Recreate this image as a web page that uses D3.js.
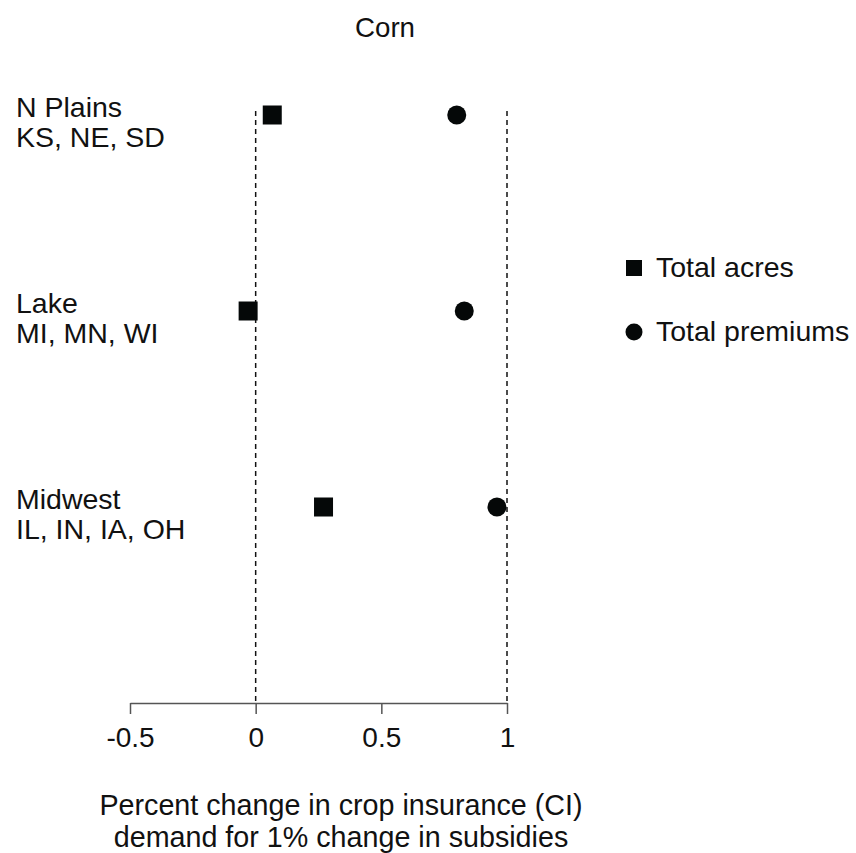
<!DOCTYPE html>
<html>
<head>
<meta charset="utf-8">
<script src="https://cdn.jsdelivr.net/npm/d3@7"></script>
<style>
  body { margin: 0; background: #fff; }
  text { font-family: "Liberation Sans", Arial, Helvetica, sans-serif; fill: #111; }
</style>
</head>
<body>
<div id="main"></div>
<script>
// data
const regions = ['N Plains', 'Lake', 'Midwest'];
const states = ['KS, NE, SD', 'MI, MN, WI', 'IL, IN, IA, OH'];
const totalAcres = [0.066, -0.03, 0.27];
const totalPremiums = [0.80, 0.83, 0.96];
const xTicks = [-0.5, 0, 0.5, 1];
const xTickLabels = ['-0.5', '0', '0.5', '1'];
const refLines = [0, 1];
const seriesNames = ['Total acres', 'Total premiums'];

const W = 856, H = 853;
const fontSize = 28.5;

const svg = d3.select('#main').append('svg')
  .attr('width', W)
  .attr('height', H);

const x = d3.scaleLinear().domain([-0.5, 1]).range([130, 507]);
// rows evenly spaced, axis sits where a 4th row would be
const y = d3.scalePoint().domain([...regions, '']).range([115, 703]);
const axisY = y('');

// title
svg.append('text')
  .attr('x', 385).attr('y', 37)
  .attr('text-anchor', 'middle')
  .style('font-size', '27.7px')
  .text('Corn');

// dashed reference lines
svg.selectAll('.ref')
  .data(refLines)
  .enter().append('line')
  .attr('class', 'ref')
  .attr('x1', d => x(d)).attr('x2', d => x(d))
  .attr('y1', 111).attr('y2', axisY)
  .attr('stroke', '#111')
  .attr('stroke-width', 1.5)
  .attr('stroke-dasharray', '5,4');

// x axis
const axis = svg.append('g')
  .attr('transform', `translate(0,${axisY})`)
  .call(d3.axisBottom(x).tickValues(xTicks).tickSize(11).tickSizeOuter(0).tickPadding(13)
    .tickFormat((d, i) => xTickLabels[i]));
axis.select('.domain').attr('stroke', '#555').attr('stroke-width', 1.5);
axis.selectAll('.tick line').attr('stroke', '#555').attr('stroke-width', 1.5);
axis.selectAll('.tick text')
  .style('font-size', '28px')
  .style('font-family', '"Liberation Sans", Arial, sans-serif')
  .attr('fill', '#111');

// axis title
svg.append('text')
  .attr('text-anchor', 'middle')
  .style('font-size', '28.7px')
  .selectAll('tspan')
  .data(['Percent change in crop insurance (CI)', 'demand for 1% change in subsidies'])
  .enter().append('tspan')
  .attr('x', 341)
  .attr('y', (d, i) => 815 + i * 32)
  .text(d => d);

// region labels
const labels = svg.selectAll('.region')
  .data(regions)
  .enter().append('text')
  .attr('class', 'region')
  .style('font-size', fontSize + 'px');
labels.append('tspan')
  .attr('x', 16).attr('y', d => y(d) + 2)
  .text(d => d);
labels.append('tspan')
  .attr('x', 16).attr('y', d => y(d) + 32)
  .text((d, i) => states[i]);

// markers
const sq = 19;
svg.selectAll('.acres')
  .data(regions)
  .enter().append('rect')
  .attr('class', 'acres')
  .attr('x', (d, i) => x(totalAcres[i]) - sq / 2)
  .attr('y', d => y(d) - sq / 2)
  .attr('width', sq).attr('height', sq)
  .attr('fill', '#050808');

svg.selectAll('.prem')
  .data(regions)
  .enter().append('circle')
  .attr('class', 'prem')
  .attr('cx', (d, i) => x(totalPremiums[i]))
  .attr('cy', d => y(d))
  .attr('r', 9.5)
  .attr('fill', '#050808');

// legend
const legend = svg.append('g').attr('transform', 'translate(634,268)');
legend.append('rect')
  .attr('x', -8).attr('y', -8).attr('width', 16).attr('height', 16)
  .attr('fill', '#050808');
legend.append('circle')
  .attr('cx', 0).attr('cy', 64).attr('r', 8.5)
  .attr('fill', '#050808');
legend.selectAll('text')
  .data(seriesNames)
  .enter().append('text')
  .attr('x', 22)
  .attr('y', (d, i) => 9 + i * 64)
  .style('font-size', fontSize + 'px')
  .text(d => d);
</script>
</body>
</html>
